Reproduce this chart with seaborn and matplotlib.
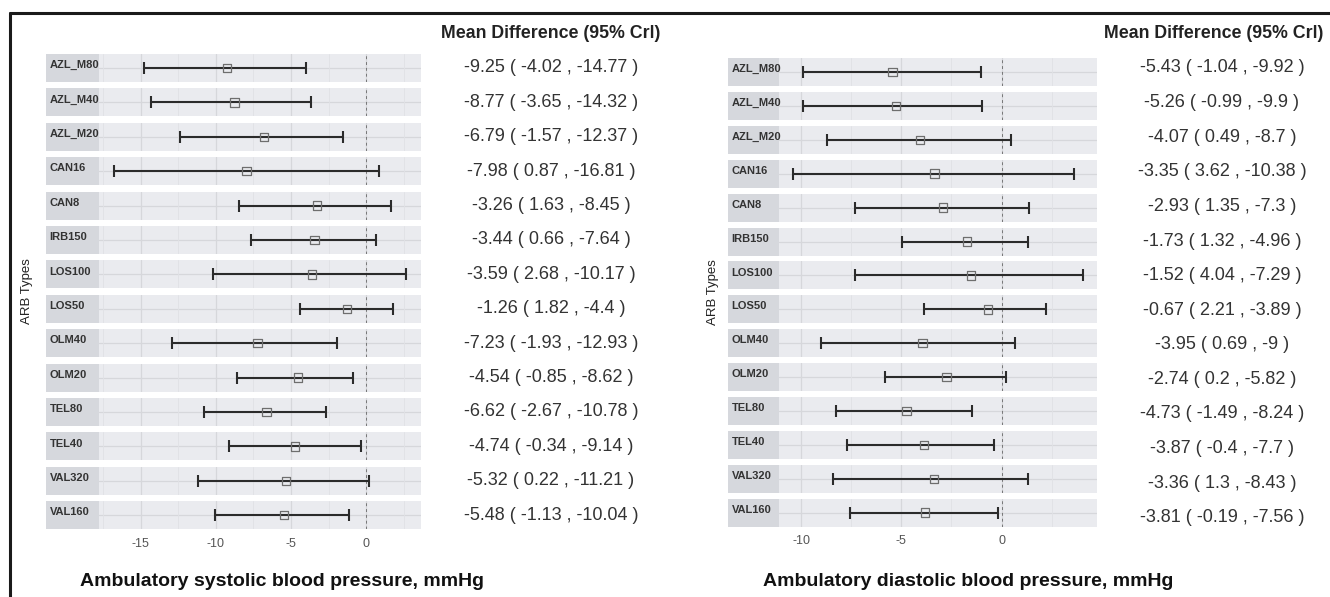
import numpy as np
import pandas as pd
import matplotlib
matplotlib.use("Agg")
import matplotlib.pyplot as plt
import seaborn as sns
from matplotlib.lines import Line2D
from matplotlib.ticker import MultipleLocator

# ── Data ───────────────────────────────────────────────────────────────────
ARB_TYPES = ["AZL_M80", "AZL_M40", "AZL_M20", "CAN16", "CAN8", "IRB150",
             "LOS100", "LOS50", "OLM40", "OLM20", "TEL80", "TEL40",
             "VAL320", "VAL160"]

# ambulatory systolic: mean difference and the two CrI bounds as printed
SBP_MEAN = [-9.25, -8.77, -6.79, -7.98, -3.26, -3.44, -3.59, -1.26,
            -7.23, -4.54, -6.62, -4.74, -5.32, -5.48]
SBP_CRI_A = [-4.02, -3.65, -1.57, 0.87, 1.63, 0.66, 2.68, 1.82,
             -1.93, -0.85, -2.67, -0.34, 0.22, -1.13]
SBP_CRI_B = [-14.77, -14.32, -12.37, -16.81, -8.45, -7.64, -10.17, -4.4,
             -12.93, -8.62, -10.78, -9.14, -11.21, -10.04]

# ambulatory diastolic
DBP_MEAN = [-5.43, -5.26, -4.07, -3.35, -2.93, -1.73, -1.52, -0.67,
            -3.95, -2.74, -4.73, -3.87, -3.36, -3.81]
DBP_CRI_A = [-1.04, -0.99, 0.49, 3.62, 1.35, 1.32, 4.04, 2.21,
             0.69, 0.2, -1.49, -0.4, 1.3, -0.19]
DBP_CRI_B = [-9.92, -9.9, -8.7, -10.38, -7.3, -4.96, -7.29, -3.89,
             -9, -5.82, -8.24, -7.7, -8.43, -7.56]

COL_TITLE = "Mean Difference (95% Crl)"
Y_LABEL = "ARB Types"
SBP_TITLE = "Ambulatory systolic blood pressure, mmHg"
DBP_TITLE = "Ambulatory diastolic blood pressure, mmHg"

# ── Style ──────────────────────────────────────────────────────────────────
sns.set_theme(style="white")
plt.rcParams["font.family"] = ["Liberation Sans", "DejaVu Sans"]
plt.rcParams["axes.unicode_minus"] = False

W, H = 1330, 597
PANEL_BG = "#EAEBEF"
STRIP_BG = "#D6D8DD"
GRID_MAJ = "#D6D7DB"
GRID_MIN = "#E0E1E5"
INK = "#2B2B2B"

fig = plt.figure(figsize=(W / 100, H / 100), dpi=100)
fig.patch.set_facecolor("white")


def box(x0, y0, w, h):
    """pixel box (top-left origin) -> figure fraction rect"""
    return [x0 / W, 1 - (y0 + h) / H, w / W, h / H]


def forest(df, strip_x, strip_w, panel_w, top, step, row_h):
    lo = min(df["cri_a"].min(), df["cri_b"].min())
    hi = max(df["cri_a"].max(), df["cri_b"].max())
    pad = 0.05 * (hi - lo)
    xlim = (lo - pad, hi + pad)
    n = len(df)
    for i, (_, row) in enumerate(df.iterrows()):
        y0 = top + i * step
        # panel
        ax = fig.add_axes(box(strip_x + strip_w, y0, panel_w, row_h))
        ax.set_facecolor(PANEL_BG)
        for s in ax.spines.values():
            s.set_visible(False)
        ax.set_xlim(*xlim)
        ax.set_ylim(-1, 1)
        ax.xaxis.set_major_locator(MultipleLocator(5))
        ax.xaxis.set_minor_locator(MultipleLocator(2.5))
        ax.set_yticks([])
        ax.grid(which="major", axis="x", color=GRID_MAJ, lw=0.9)
        ax.grid(which="minor", axis="x", color=GRID_MIN, lw=0.6)
        ax.axhline(0, color=GRID_MAJ, lw=0.9, zorder=0.5)
        ax.set_axisbelow(True)
        ax.axvline(0, color="#777777", lw=0.7, ls=(0, (3, 3)), zorder=1)
        lo_i = min(row["cri_a"], row["cri_b"])
        hi_i = max(row["cri_a"], row["cri_b"])
        ax.errorbar(row["mean"], 0,
                    xerr=[[row["mean"] - lo_i], [hi_i - row["mean"]]],
                    fmt="none", ecolor=INK, elinewidth=1.5,
                    capsize=4.3, capthick=1.5, zorder=2)
        sns.scatterplot(x=[row["mean"]], y=[0], ax=ax, marker="s", s=38,
                        facecolor="none", edgecolor="#6E6E6E",
                        linewidth=0.9, zorder=3, legend=False)
        ax.set_xlabel(""); ax.set_ylabel("")
        ax.tick_params(axis="x", which="both", length=0)
        if i < n - 1:
            ax.set_xticklabels([])
        else:
            ax.tick_params(axis="x", labelsize=9, labelcolor="#555555",
                           pad=6)
        # strip (added after the panel so its label sits on top)
        sax = fig.add_axes(box(strip_x, y0, strip_w, row_h))
        sax.set_facecolor(STRIP_BG)
        sax.set_xticks([]); sax.set_yticks([])
        for s in sax.spines.values():
            s.set_visible(False)
        sax.text(0.07, 0.6, row["arb"], transform=sax.transAxes,
                 ha="left", va="center", fontsize=8, fontweight="bold",
                 color="#333333", clip_on=False)


def text_column(df, cx, top, step, title_cx):
    fig.text(title_cx / W, 1 - (top - 35) / H, COL_TITLE, ha="center",
             va="center", fontsize=12.8, fontweight="bold", color="#222222")
    for i, (_, row) in enumerate(df.iterrows()):
        s = f"{row['mean']:g} ( {row['cri_a']:g} , {row['cri_b']:g} )"
        fig.text(cx / W, 1 - (top + i * step) / H, s, ha="center",
                 va="center", fontsize=13, color="#333333")


sbp = pd.DataFrame({"arb": ARB_TYPES, "mean": SBP_MEAN,
                    "cri_a": SBP_CRI_A, "cri_b": SBP_CRI_B})
dbp = pd.DataFrame({"arb": ARB_TYPES, "mean": DBP_MEAN,
                    "cri_a": DBP_CRI_A, "cri_b": DBP_CRI_B})

forest(sbp, strip_x=46, strip_w=53, panel_w=322, top=54, step=34.4, row_h=28)
forest(dbp, strip_x=728, strip_w=51, panel_w=318, top=58, step=33.9, row_h=28)

text_column(sbp, 551, 68, 34.4, 551)
text_column(dbp, 1222, 68, 34.6, 1214)

fig.text(27 / W, 1 - 291 / H, Y_LABEL, rotation=90, ha="center", va="center",
         fontsize=9.5, color="#222222")
fig.text(713 / W, 1 - 292 / H, Y_LABEL, rotation=90, ha="center", va="center",
         fontsize=9.5, color="#222222")

fig.text(80 / W, 1 - 582 / H, SBP_TITLE, ha="left", va="center",
         fontsize=14, fontweight="bold", color="#111111")
fig.text(763 / W, 1 - 582 / H, DBP_TITLE, ha="left", va="center",
         fontsize=14, fontweight="bold", color="#111111")

# frame lines along the top and left edge
fig.add_artist(Line2D([10 / W, 1], [1 - 13 / H, 1 - 13 / H],
                      transform=fig.transFigure, color="#1A1A1A", lw=2.2))
fig.add_artist(Line2D([10 / W, 10 / W], [0, 1 - 13 / H],
                      transform=fig.transFigure, color="#1A1A1A", lw=2.2))

fig.savefig("out.png", dpi=100)
plt.close(fig)
